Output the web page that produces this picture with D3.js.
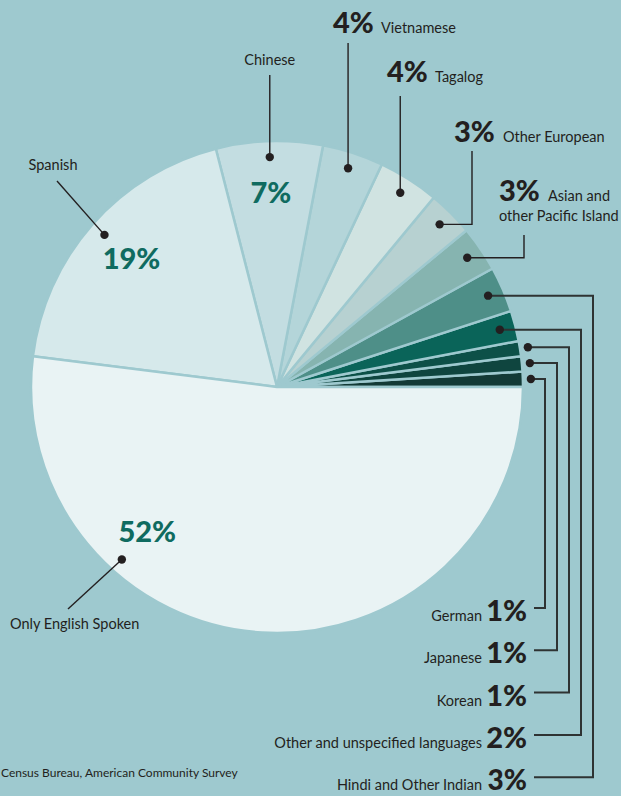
<!DOCTYPE html>
<html>
<head>
<meta charset="utf-8">
<script src="https://cdn.jsdelivr.net/npm/d3@7"></script>
<style>
  body { margin: 0; background: #9ec9cf; }
  text { font-family: Lato, "Open Sans", sans-serif; fill: #231f20; }
</style>
</head>
<body>
<div id="chart"></div>
<script>
// data, starting at 3 o'clock and going counterclockwise
const languages = ['German', 'Japanese', 'Korean', 'Other and unspecified languages',
  'Hindi and Other Indian', 'Asian and other Pacific Island', 'Other European',
  'Tagalog', 'Vietnamese', 'Chinese', 'Spanish', 'Only English Spoken'];
const shares = [1, 1, 1, 2, 3, 3, 3, 4, 4, 7, 19, 52];
const sliceColors = ['#133a36', '#0f453f', '#0d5048', '#0a6459', '#4e8f88', '#86b4b0',
  '#b7d1d1', '#d0e3e1', '#b4d5d9', '#c3dde1', '#d6e9eb', '#e9f3f4'];
const sourceNote = 'Census Bureau, American Community Survey';

const width = 621, height = 796;
const cx = 277, cy = 387, radius = 246;
const bg = '#9ec9cf';
const teal = '#0f6b60';

const data = languages.map((name, i) => ({ name, value: shares[i], color: sliceColors[i] }));

const svg = d3.select('#chart').append('svg')
  .attr('width', width)
  .attr('height', height);

const g = svg.append('g').attr('transform', `translate(${cx},${cy})`);

// counterclockwise from 3 o'clock
const pie = d3.pie().sort(null).value(d => d.value)
  .startAngle(Math.PI / 2)
  .endAngle(Math.PI / 2 - 2 * Math.PI);
const arcs = pie(data);
const byName = {};
arcs.forEach(a => byName[a.data.name] = a);

const arc = d3.arc().innerRadius(0).outerRadius(radius);
const dotArc = d3.arc().innerRadius(230).outerRadius(230);
const outDotArc = d3.arc().innerRadius(254).outerRadius(254);
const pctArc = d3.arc().innerRadius(194).outerRadius(194);

g.selectAll('path.slice')
  .data(arcs)
  .join('path')
  .attr('class', 'slice')
  .attr('d', arc)
  .attr('fill', d => d.data.color)
  .attr('stroke', bg)
  .attr('stroke-width', 2.5)
  .attr('stroke-linejoin', 'round');

// helpers, absolute coords
const abs = p => [p[0] + cx, p[1] + cy];
function partial(a, frac) {
  const ang = a.startAngle + (a.endAngle - a.startAngle) * frac;
  return Object.assign({}, a, { startAngle: ang, endAngle: ang });
}

const labels = svg.append('g');

function dot(p) {
  labels.append('circle').attr('cx', p[0]).attr('cy', p[1]).attr('r', 4.2).attr('fill', '#231f20');
}
function leader(points, color, w) {
  labels.append('path')
    .attr('d', d3.line()(points))
    .attr('fill', 'none')
    .attr('stroke', color || '#231f20')
    .attr('stroke-width', w || 1.4);
}
function bigPct(x, y, v, anchor, fill, size) {
  labels.append('text').attr('x', x).attr('y', y)
    .attr('text-anchor', anchor || 'start')
    .attr('font-size', size || 29).attr('font-weight', 900)
    .style('fill', fill || '#231f20')
    .text(v + '%');
}
function name(x, y, t, anchor) {
  labels.append('text').attr('x', x).attr('y', y)
    .attr('text-anchor', anchor || 'start')
    .attr('font-size', 14.5)
    .text(t);
}

// big slices: percent inside, name outside
['Chinese', 'Spanish'].forEach(n => {
  const c = abs(pctArc.centroid(byName[n]));
  bigPct(c[0], c[1] + 10, byName[n].data.value, 'middle', teal);
});
const eng = partial(byName['Only English Spoken'], 0.295);
const engPct = abs(pctArc.centroid(eng));
bigPct(engPct[0], engPct[1] + 11, byName['Only English Spoken'].data.value, 'middle', teal);

let p = abs(dotArc.centroid(byName['Chinese']));
leader([[p[0], 75], p]); dot(p);
name(p[0], 65, 'Chinese', 'middle');

p = abs(dotArc.centroid(byName['Spanish']));
leader([[57, 181], p]); dot(p);
name(53, 170, 'Spanish', 'middle');

p = abs(d3.arc().innerRadius(232).outerRadius(232).centroid(eng));
leader([[68, 609], p]); dot(p);
name(10, 629, 'Only English Spoken');

// top labels
p = abs(dotArc.centroid(byName['Vietnamese']));
leader([[p[0], 43], p]); dot(p);
bigPct(333, 33, 4); name(381, 33, 'Vietnamese');

p = abs(dotArc.centroid(byName['Tagalog']));
leader([[p[0], 96], p]); dot(p);
bigPct(387, 82, 4); name(435, 82, 'Tagalog');

p = abs(dotArc.centroid(byName['Other European']));
leader([[472, 151], [472, p[1]], p]); dot(p);
bigPct(454, 142, 3); name(503, 142, 'Other European');

p = abs(dotArc.centroid(byName['Asian and other Pacific Island']));
leader([[524, 235], [524, p[1]], p]); dot(p);
bigPct(499, 201, 3); name(548, 201, 'Asian and'); name(499, 221, 'other Pacific Island');

// right side, stacked legend with elbow lines
const rightSide = ['German', 'Japanese', 'Korean', 'Other and unspecified languages', 'Hindi and Other Indian'];
rightSide.forEach((n, i) => {
  const a = byName[n];
  const pt = abs((a.data.value > 1 ? dotArc : outDotArc).centroid(a));
  const lx = 545 + i * 12;
  const by = 621 + i * 42.3;
  leader([pt, [lx, pt[1]], [lx, by - 13], [534, by - 13]], '#2e3333', 2);
  dot(pt);
  bigPct(527, by, a.data.value, 'end', null, i === 4 ? 28 : 29);
  name(482, by, n, 'end');
});

labels.append('text').attr('x', 1).attr('y', 777)
  .attr('font-size', 12)
  .text(sourceNote);
</script>
</body>
</html>
